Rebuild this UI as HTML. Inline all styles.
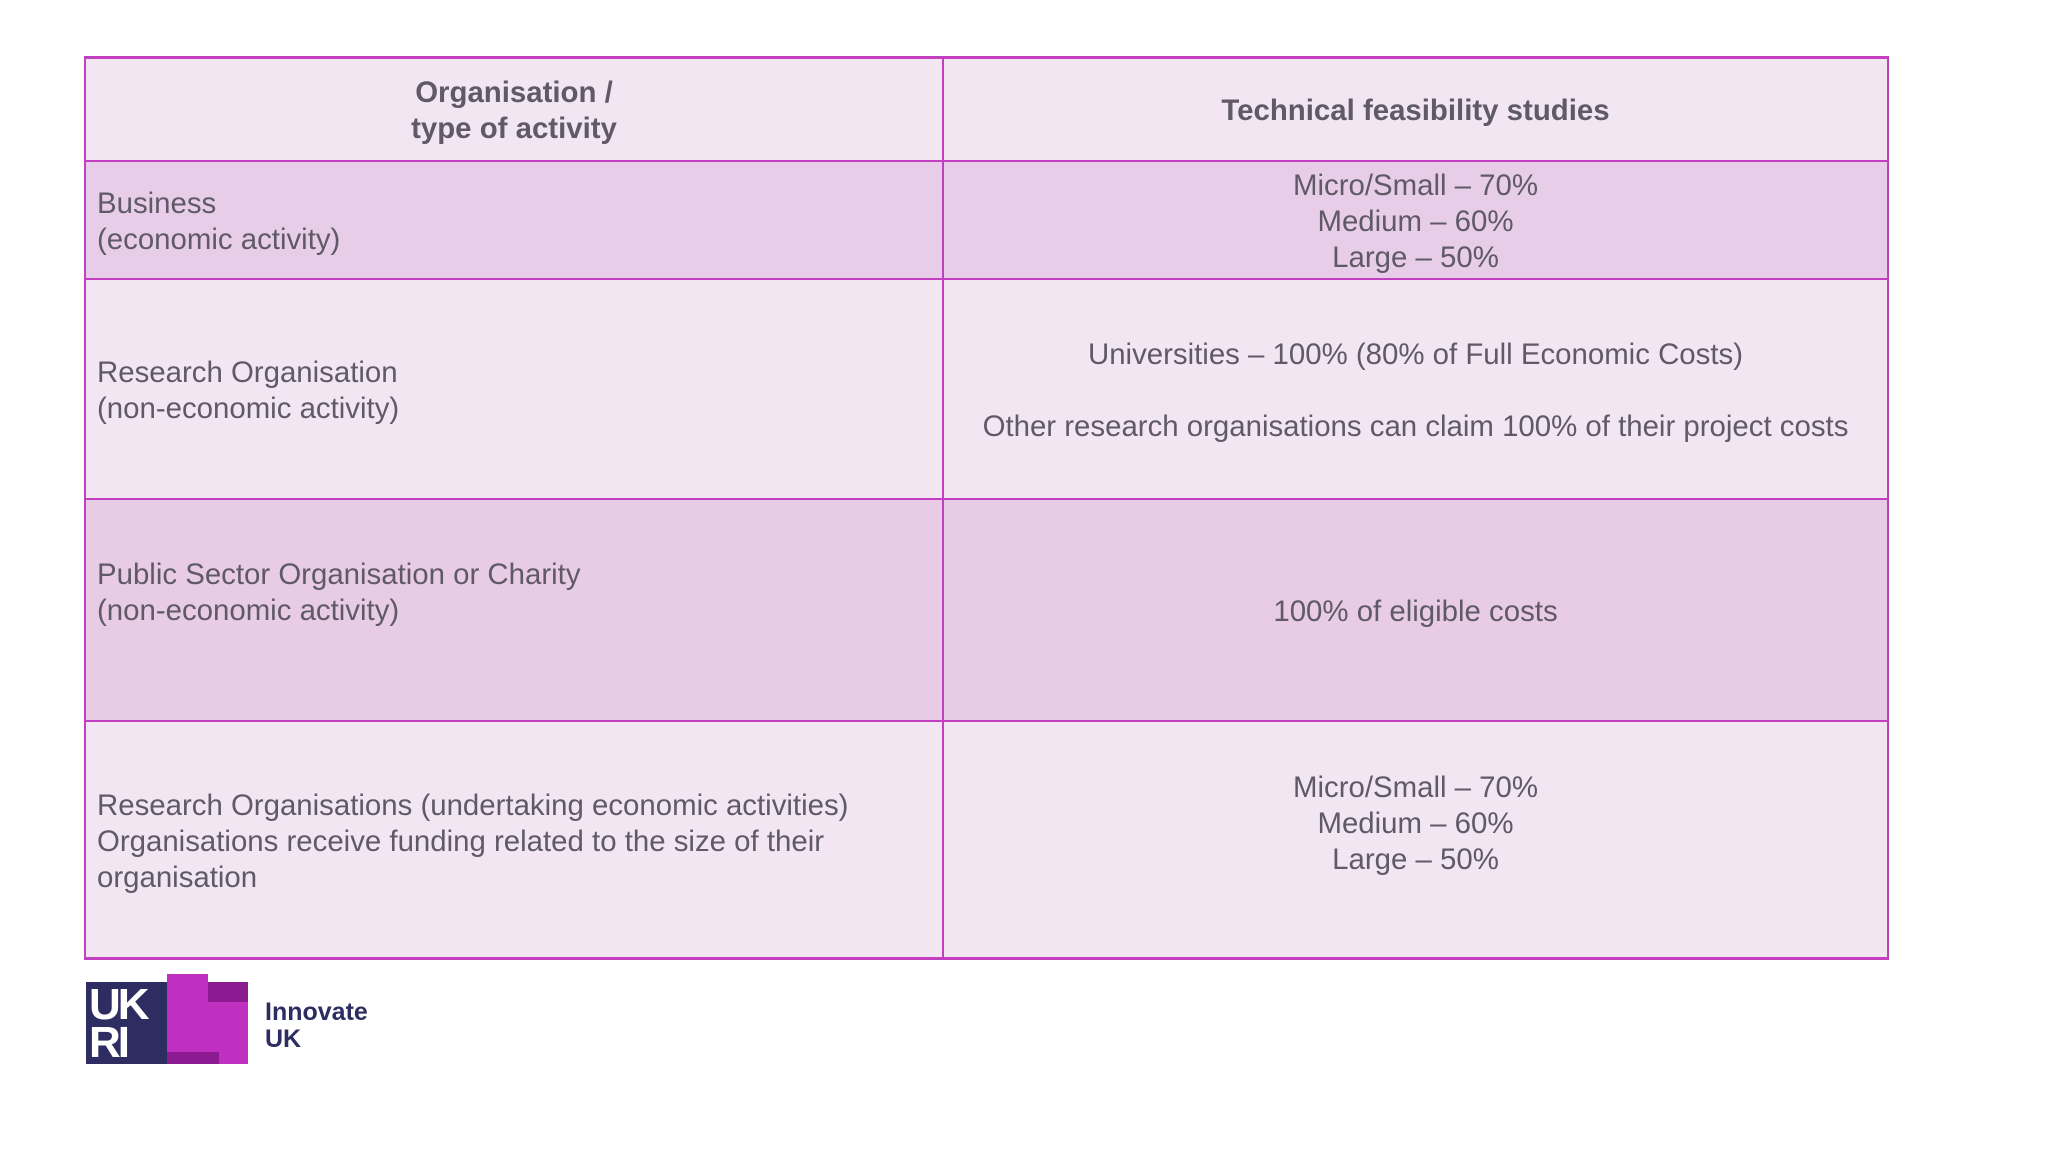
<!DOCTYPE html>
<html><head><meta charset="utf-8"><style>
body{margin:0;width:2048px;height:1152px;background:#fff;overflow:hidden;font-family:"Liberation Sans",sans-serif;color:#5f5a66;position:relative}
.c{position:absolute;box-sizing:border-box;display:flex;flex-direction:column;justify-content:center;font-size:29.4px;line-height:36px;padding-top:4px}
.ctr{align-items:center;text-align:center}
.lft{padding-left:12px}
.b{position:absolute;background:#c23fc2}
</style></head><body>
<div>
<div class="c ctr" style="left:85px;top:57px;width:858px;height:104px;background:#f3e6f3;font-weight:bold">Organisation /<br>type of activity</div>
<div class="c ctr" style="left:943px;top:57px;width:945px;height:104px;background:#f3e6f3;font-weight:bold">Technical feasibility studies</div>
<div class="c lft" style="left:85px;top:161px;width:858px;height:118px;background:#e8cde8">Business<br>(economic activity)</div>
<div class="c ctr" style="left:943px;top:161px;width:945px;height:118px;background:#e8cde8">Micro/Small – 70%<br>Medium – 60%<br>Large – 50%</div>
<div class="c lft" style="left:85px;top:279px;width:858px;height:220px;background:#f3e6f3">Research Organisation<br>(non-economic activity)</div>
<div class="c ctr" style="left:943px;top:279px;width:945px;height:220px;background:#f3e6f3">Universities – 100% (80% of Full Economic Costs)<br><br>Other research organisations can claim 100% of their project costs</div>
<div class="c lft" style="left:85px;top:499px;width:858px;height:222px;background:#e8cce6;justify-content:flex-start;padding-top:58px">Public Sector Organisation or Charity<br>(non-economic activity)</div>
<div class="c ctr" style="left:943px;top:499px;width:945px;height:222px;background:#e8cce6">100% of eligible costs</div>
<div class="c lft" style="left:85px;top:721px;width:858px;height:238px;background:#f3e6f3">Research Organisations (undertaking economic activities)<br>Organisations receive funding related to the size of their<br>organisation</div>
<div class="c ctr" style="left:943px;top:721px;width:945px;height:238px;background:#f3e6f3;justify-content:flex-start;padding-top:49px">Micro/Small – 70%<br>Medium – 60%<br>Large – 50%</div>
<div class="b" style="left:84px;top:56px;width:1805px;height:3px"></div>
<div class="b" style="left:84px;top:160px;width:1805px;height:2px"></div>
<div class="b" style="left:84px;top:278px;width:1805px;height:2px"></div>
<div class="b" style="left:84px;top:498px;width:1805px;height:2px"></div>
<div class="b" style="left:84px;top:720px;width:1805px;height:2px"></div>
<div class="b" style="left:84px;top:957px;width:1805px;height:3px"></div>
<div class="b" style="left:84px;top:56px;width:2px;height:904px"></div>
<div class="b" style="left:942px;top:56px;width:2px;height:904px"></div>
<div class="b" style="left:1887px;top:56px;width:2px;height:904px"></div>
</div>
<div style="position:absolute;left:86px;top:974px;width:300px;height:92px">
<div style="position:absolute;left:0;top:8px;width:82px;height:82px;background:#2e2d62"></div>
<div style="position:absolute;left:3px;top:12px;width:78px;font:900 44px/38px 'Liberation Sans',sans-serif;color:#fff;letter-spacing:-3px">UK<br>RI</div>
<div style="position:absolute;left:81px;top:0;width:41px;height:90px;background:#c030c0"></div>
<div style="position:absolute;left:122px;top:8px;width:40px;height:82px;background:#c030c0"></div>
<div style="position:absolute;left:122px;top:8px;width:40px;height:20px;background:#8c1a90"></div>
<div style="position:absolute;left:81px;top:78px;width:52px;height:12px;background:#8c1a90"></div>
<div style="position:absolute;left:179px;top:25px;font:bold 25px/27px 'Liberation Sans',sans-serif;color:#2e2d62">Innovate<br>UK</div>
</div>
</body></html>
